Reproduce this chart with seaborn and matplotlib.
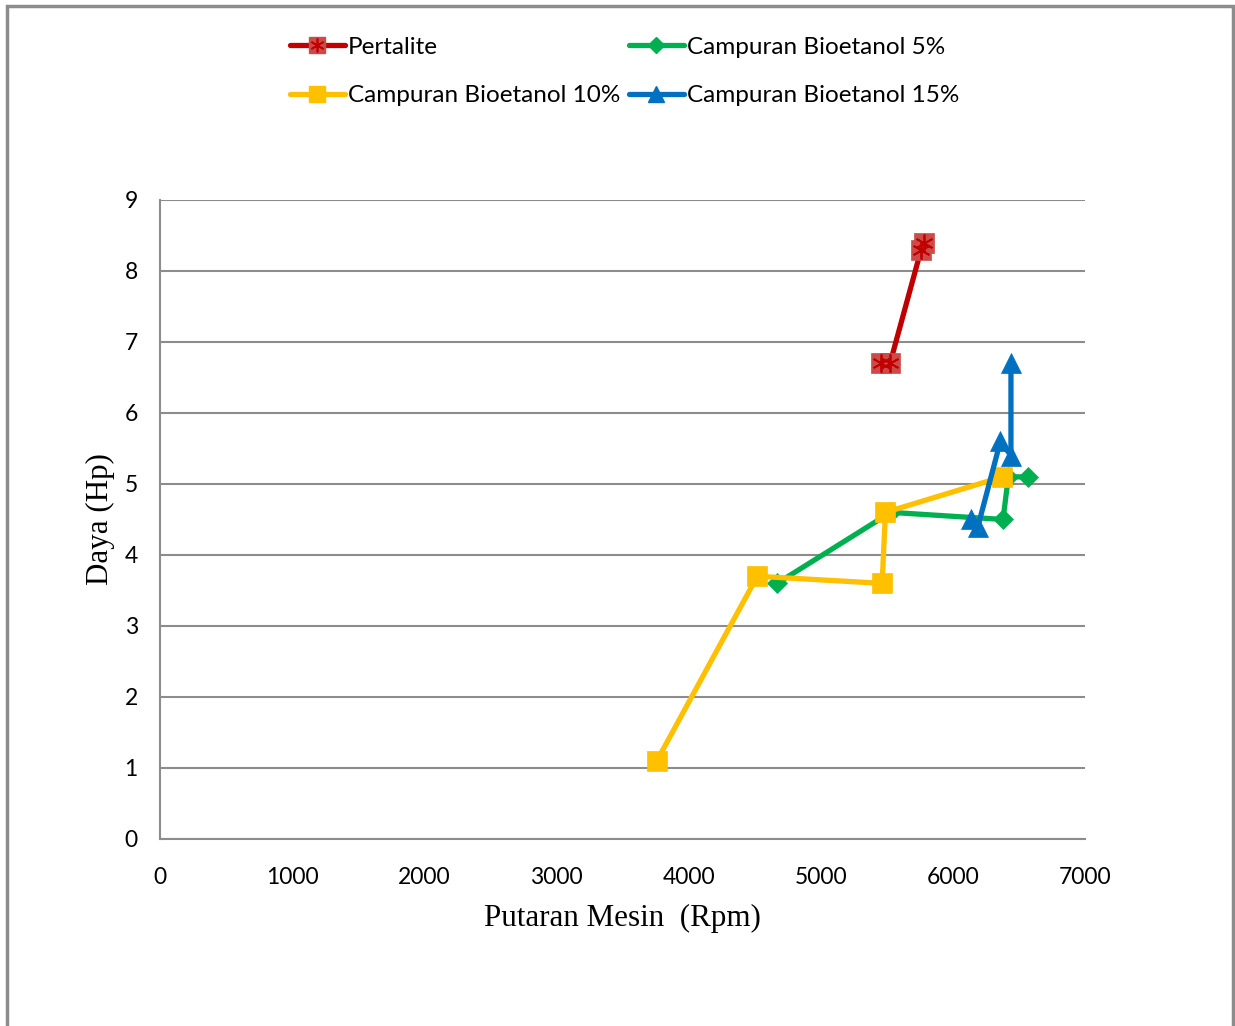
import matplotlib
matplotlib.use("Agg")
import matplotlib.pyplot as plt
from matplotlib.patches import Rectangle
from matplotlib.lines import Line2D
import seaborn as sns
import pandas as pd

# Engine speed (rpm) vs. power (Hp) for each fuel
pertalite_rpm = [5460, 5525, 5760, 5780]
pertalite_hp = [6.7, 6.7, 8.3, 8.4]

bio5_rpm = [4670, 5530, 6380, 6420, 6570]
bio5_hp = [3.6, 4.6, 4.5, 5.1, 5.1]

bio10_rpm = [3760, 4520, 5465, 5490, 6375]
bio10_hp = [1.1, 3.7, 3.6, 4.6, 5.1]

bio15_rpm = [6140, 6190, 6360, 6440, 6440]
bio15_hp = [4.5, 4.4, 5.6, 5.4, 6.7]

labels = ["Pertalite", "Campuran Bioetanol 5%",
          "Campuran Bioetanol 10%", "Campuran Bioetanol 15%"]

x_ticks = [0, 1000, 2000, 3000, 4000, 5000, 6000, 7000]
y_ticks = [0, 1, 2, 3, 4, 5, 6, 7, 8, 9]

sns.set_theme(style="white")
plt.rcParams["font.family"] = ["Lato", "DejaVu Sans"]

fig = plt.figure(figsize=(12.35, 10.26), dpi=100)
ax = fig.add_axes([0.1296, 0.1823, 0.7489, 0.6228])

# outer chart frame
fig.patches.append(Rectangle((7 / 1235, -0.05), 1226 / 1235, 1.05 - 6 / 1026,
                             transform=fig.transFigure, fill=False,
                             edgecolor="#8c8c8c", linewidth=2.5, zorder=0))

LW = 3.8
series = [
    (pertalite_rpm, pertalite_hp, "#C00000", "s", 14, "#CC4A48"),
    (bio5_rpm, bio5_hp, "#00B050", "D", 10, "#00B050"),
    (bio10_rpm, bio10_hp, "#FFC000", "s", 14, "#FFC000"),
    (bio15_rpm, bio15_hp, "#0070C0", "^", 14, "#0070C0"),
]

for (xs, ys, col, mk, ms, face), lab in zip(series, labels):
    df = pd.DataFrame({"rpm": xs, "hp": ys})
    sns.lineplot(data=df, x="rpm", y="hp", sort=False, estimator=None,
                 ax=ax, color=col, linewidth=LW, marker=mk, markersize=ms,
                 markerfacecolor=face, markeredgecolor=face,
                 markeredgewidth=0.5, zorder=3)

# asterisk overlay on the Pertalite markers
df_p = pd.DataFrame({"rpm": pertalite_rpm, "hp": pertalite_hp})
sns.lineplot(data=df_p, x="rpm", y="hp", sort=False, estimator=None, ax=ax,
             linestyle="", marker=(6, 2, 0), markersize=13,
             markeredgecolor="#C00000", markeredgewidth=1.3, zorder=4)

leg_handles = []
for (xs, ys, col, mk, ms, face) in series:
    leg_handles.append(Line2D([], [], color=col, linewidth=LW, marker=mk,
                              markersize=ms * 0.8, markerfacecolor=face,
                              markeredgecolor=face))
leg_handles[0] = (leg_handles[0],
                  Line2D([], [], linestyle="", marker=(6, 2, 0), markersize=10,
                         markeredgecolor="#C00000", markeredgewidth=1.2))

# two rows: Pertalite / 5% on top, 10% / 15% below (legend fills by column)
order = [0, 2, 1, 3]
fig.legend([leg_handles[i] for i in order], [labels[i] for i in order],
           ncol=2, loc="upper left", bbox_to_anchor=(0.2267, 0.9737),
           frameon=False, fontsize=17.5, handlelength=2.26,
           handletextpad=0.12, columnspacing=0.37, labelspacing=1.14,
           borderaxespad=0, labelcolor="black")

ax.set_xlim(0, 7000)
ax.set_ylim(0, 9)
ax.set_xticks(x_ticks)
ax.set_yticks(y_ticks)
ax.tick_params(axis="both", labelsize=16.5, length=8, width=1.5,
               color="#8c8c8c", labelcolor="black", direction="out", pad=8)
ax.tick_params(axis="x", pad=12)
ax.yaxis.grid(True, color="#8c8c8c", linewidth=1.5)
ax.xaxis.grid(False)
for side in ["top", "right"]:
    ax.spines[side].set_visible(False)
for side in ["left", "bottom"]:
    ax.spines[side].set_color("#8c8c8c")
    ax.spines[side].set_linewidth(1.5)

ax.set_xlabel("Putaran Mesin  (Rpm)", family="Liberation Serif",
              fontsize=22.3, labelpad=12, color="black")
ax.set_ylabel("Daya (Hp)", family="Liberation Serif",
              fontsize=22.3, labelpad=7, color="black")

fig.savefig("out.png", dpi=100, facecolor="white")
